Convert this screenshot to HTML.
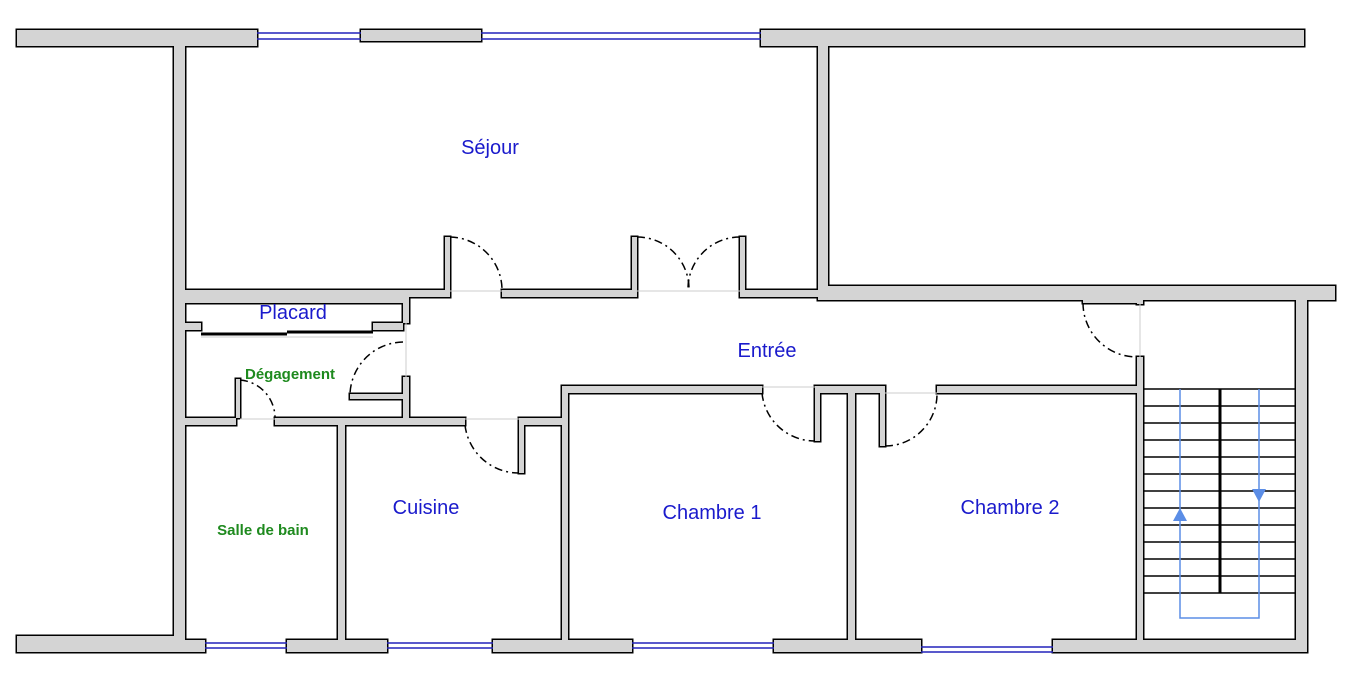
<!DOCTYPE html>
<html><head><meta charset="utf-8"><style>
html,body{margin:0;padding:0;background:#fff;}
svg{display:block}
text{font-family:"Liberation Sans","DejaVu Sans",sans-serif;}
</style></head><body>
<svg width="1352" height="682" viewBox="0 0 1352 682" xmlns="http://www.w3.org/2000/svg">
<defs>
<g id="walls">
<rect x="17" y="30" width="240" height="16"/>
<rect x="174" y="30" width="11" height="606"/>
<rect x="361" y="30" width="120" height="11"/>
<rect x="761" y="30" width="543" height="16"/>
<rect x="818" y="40" width="10" height="250"/>
<rect x="818" y="286" width="517" height="14"/>
<rect x="1296" y="296" width="11" height="356"/>
<rect x="17" y="636" width="168" height="16"/>
<rect x="174" y="640" width="31" height="12"/>
<rect x="287" y="640" width="100" height="12"/>
<rect x="493" y="640" width="139" height="12"/>
<rect x="774" y="640" width="147" height="12"/>
<rect x="1053" y="640" width="254" height="12"/>
<rect x="185" y="290" width="262" height="7"/>
<rect x="502" y="290" width="132" height="7"/>
<rect x="743" y="290" width="85" height="7"/>
<rect x="445" y="237" width="5" height="60"/>
<rect x="632" y="237" width="5" height="60"/>
<rect x="740" y="237" width="5" height="60"/>
<rect x="185" y="297" width="218" height="6"/>
<rect x="403" y="290" width="6" height="33"/>
<rect x="185" y="323" width="16" height="7"/>
<rect x="373" y="323" width="30" height="7"/>
<rect x="403" y="377" width="6" height="48"/>
<rect x="350" y="394" width="53" height="5"/>
<rect x="185" y="418" width="51" height="7"/>
<rect x="275" y="418" width="190" height="7"/>
<rect x="522" y="418" width="40" height="7"/>
<rect x="519" y="418" width="5" height="55"/>
<rect x="338" y="418" width="7" height="222"/>
<rect x="562" y="386" width="6" height="254"/>
<rect x="562" y="386" width="200" height="7"/>
<rect x="815" y="386" width="67" height="7"/>
<rect x="815" y="386" width="5" height="55"/>
<rect x="880" y="386" width="5" height="60"/>
<rect x="848" y="386" width="7" height="254"/>
<rect x="937" y="386" width="206" height="7"/>
<rect x="1137" y="357" width="6" height="283"/>
<rect x="1137" y="296" width="6" height="8"/>
<rect x="1083" y="298" width="54" height="5"/>
<rect x="236" y="379" width="4" height="39"/>
</g>
</defs>
<use href="#walls" fill="#000" stroke="#000" stroke-width="3"/>
<use href="#walls" fill="#d4d4d4"/>
<g stroke="#2222bb" stroke-width="1.5" fill="none">
<line x1="257" y1="33" x2="361" y2="33"/><line x1="257" y1="39" x2="361" y2="39"/>
<line x1="481" y1="33" x2="761" y2="33"/><line x1="481" y1="39" x2="761" y2="39"/>
<line x1="205" y1="643" x2="287" y2="643"/><line x1="205" y1="648" x2="287" y2="648"/>
<line x1="387" y1="643" x2="493" y2="643"/><line x1="387" y1="648" x2="493" y2="648"/>
<line x1="632" y1="643" x2="774" y2="643"/><line x1="632" y1="648" x2="774" y2="648"/>
<line x1="921" y1="647" x2="1053" y2="647"/><line x1="921" y1="652" x2="1053" y2="652"/>
</g>
<g stroke="#ccc" stroke-width="1">
<line x1="450" y1="291" x2="502" y2="291"/><line x1="637" y1="291" x2="740" y2="291"/>
<line x1="406" y1="323" x2="406" y2="377"/><line x1="240" y1="419" x2="275" y2="419"/>
<line x1="465" y1="419" x2="519" y2="419"/><line x1="762" y1="387" x2="815" y2="387"/>
<line x1="885" y1="393" x2="937" y2="393"/><line x1="1140" y1="303" x2="1140" y2="357"/>
<line x1="201" y1="337" x2="373" y2="337"/>
</g>
<line x1="201" y1="334" x2="287" y2="334" stroke="#000" stroke-width="3"/>
<line x1="287" y1="332" x2="373" y2="332" stroke="#000" stroke-width="3"/>
<g stroke="#000" stroke-width="1.5" fill="none" stroke-dasharray="8,4,2,4">
<path d="M450 237 A53 53 0 0 1 502 290"/>
<path d="M637 237 A52 52 0 0 1 689 290"/>
<path d="M740 237 A52 52 0 0 0 688 290"/>
<path d="M403 342 A54 54 0 0 0 350 394"/>
<path d="M240 380 A38 38 0 0 1 275 418"/>
<path d="M465 425 A54 54 0 0 0 519 473"/>
<path d="M762 393 A53 53 0 0 0 815 441"/>
<path d="M885 446 A52 52 0 0 0 937 393"/>
<path d="M1083 303 A54 54 0 0 0 1137 357"/>
</g>
<g stroke="#000" stroke-width="1.5">
<line x1="1143" y1="389" x2="1296" y2="389"/>
<line x1="1143" y1="406" x2="1296" y2="406"/>
<line x1="1143" y1="423" x2="1296" y2="423"/>
<line x1="1143" y1="440" x2="1296" y2="440"/>
<line x1="1143" y1="457" x2="1296" y2="457"/>
<line x1="1143" y1="474" x2="1296" y2="474"/>
<line x1="1143" y1="491" x2="1296" y2="491"/>
<line x1="1143" y1="508" x2="1296" y2="508"/>
<line x1="1143" y1="525" x2="1296" y2="525"/>
<line x1="1143" y1="542" x2="1296" y2="542"/>
<line x1="1143" y1="559" x2="1296" y2="559"/>
<line x1="1143" y1="576" x2="1296" y2="576"/>
<line x1="1143" y1="593" x2="1296" y2="593"/>
<line x1="1220" y1="389" x2="1220" y2="593" stroke-width="3"/>
</g>
<polyline points="1180,389 1180,618 1259,618 1259,389" stroke="#5b8de6" stroke-width="1.5" fill="none"/>
<polygon points="1180,508 1173,521 1187,521" fill="#5b8de6"/>
<polygon points="1252,489 1266,489 1259,502" fill="#5b8de6"/>
<g fill="#1a1acc" font-size="20" text-anchor="middle">
<text x="490" y="154">Séjour</text>
<text x="293" y="319">Placard</text>
<text x="767" y="357">Entrée</text>
<text x="426" y="514">Cuisine</text>
<text x="712" y="519">Chambre 1</text>
<text x="1010" y="514">Chambre 2</text>
</g>
<g fill="#1e8a1e" font-size="15" font-weight="bold" text-anchor="middle">
<text x="290" y="379">Dégagement</text>
<text x="263" y="535">Salle de bain</text>
</g>
</svg>
</body></html>
